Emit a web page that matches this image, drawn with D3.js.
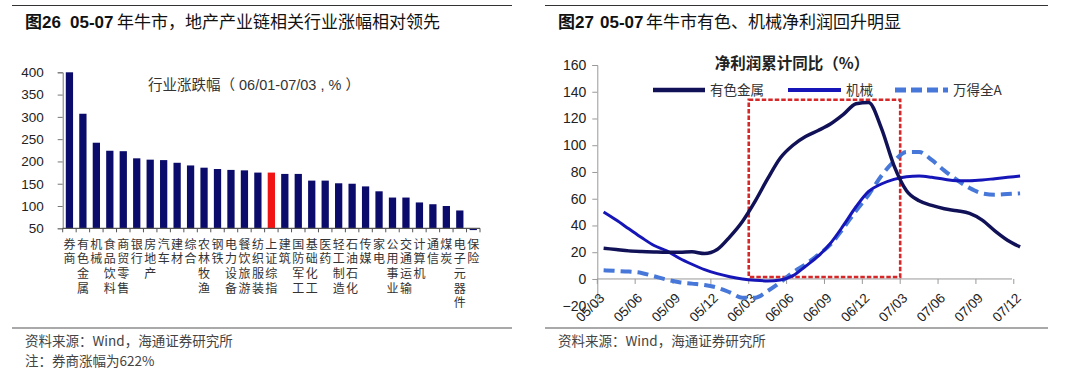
<!DOCTYPE html>
<html>
<head>
<meta charset="utf-8">
<script src="https://cdn.jsdelivr.net/npm/d3@7"></script>
<style>
  body { margin: 0; background: #fff; }
  svg { display: block; font-family: "Liberation Sans", "Noto Sans CJK SC", sans-serif; }
  .cjk { font-family: "Noto Sans CJK SC", sans-serif; }
</style>
</head>
<body>
<div id="chart"></div>
<script>
//~~~~~~~~~~~~~~~~~~~~~~~~~~~~~~~~~~~~
// Data - left chart (industry returns 06/01-07/03)
//~~~~~~~~~~~~~~~~~~~~~~~~~~~~~~~~~~~~
const industries = ["券商", "有色金属", "机械", "食品饮料", "商贸零售", "银行", "房地产", "汽车", "建材", "综合",
    "农林牧渔", "钢铁", "电力设备", "餐饮旅游", "纺织服装", "上证综指", "建筑", "国防军工", "基础化工", "医药",
    "轻工制造", "石油石化", "传媒", "家电", "公用事业", "交通运输", "计算机", "通信", "煤炭", "电子元器件", "保险"];
const industryReturns = [622, 307, 242, 224, 223, 207, 204, 203, 197, 191,
    186, 183, 181, 180, 175, 175, 172, 172, 157, 157,
    151, 150, 144, 133, 119, 119, 108, 104, 100, 90, 46];
const highlighted = "上证综指";
const returnTicks = [50, 100, 150, 200, 250, 300, 350, 400];

//~~~~~~~~~~~~~~~~~~~~~~~~~~~~~~~~~~~~
// Data - right chart (net profit YoY, monthly 05/03-07/12)
//~~~~~~~~~~~~~~~~~~~~~~~~~~~~~~~~~~~~
const months = ["05/03", "05/04", "05/05", "05/06", "05/07", "05/08", "05/09", "05/10", "05/11", "05/12",
    "06/01", "06/02", "06/03", "06/04", "06/05", "06/06", "06/07", "06/08", "06/09", "06/10", "06/11", "06/12",
    "07/01", "07/02", "07/03", "07/04", "07/05", "07/06", "07/07", "07/08", "07/09", "07/10", "07/11", "07/12"];
const metals = [23, 22, 21, 20.5, 20.2, 20, 20, 20.3, 19, 22,
    31.5, 43, 58, 75, 90.5, 100, 106.5, 111, 116, 123, 131, 132,
    113, 85, 66, 58.5, 55, 52.5, 51, 49, 44, 36, 29, 24];
const machinery = [50, 44, 37.5, 31, 25, 21, 15.5, 11, 7, 4,
    1.7, 0, -1, -1.5, -0.8, 2.5, 9.5, 17, 27, 40, 54, 65.5,
    71, 74.5, 76.5, 77, 76, 74.5, 73.5, 73.5, 74, 75, 76, 77];
const windA = [6.5, 6, 5.5, 4.5, 2, -0.5, -2.5, -3.5, -4.5, -6.5,
    -10, -14, -14, -9, -2.5, 5, 11, 18, 26, 38, 51, 63,
    77, 88, 95, 95, 89, 81, 74, 68, 64, 63, 63.5, 64];
const monthTicks = ["05/03", "05/06", "05/09", "05/12", "06/03", "06/06", "06/09", "06/12", "07/03", "07/06", "07/09", "07/12"];
const profitTicks = [-20, 0, 20, 40, 60, 80, 100, 120, 140, 160];
const boxMonths = ["06/03", "07/03"];
const boxRange = [1.5, 134];

//~~~~~~~~~~~~~~~~~~~~~~~~~~~~~~~~~~~~
// Page frame
//~~~~~~~~~~~~~~~~~~~~~~~~~~~~~~~~~~~~
const svg = d3.select("#chart").append("svg")
    .attr("width", 1080)
    .attr("height", 374);

function drawFrame(x0, x1, title) {
    svg.append("line").attr("x1", x0).attr("x2", x1).attr("y1", 5.5).attr("y2", 5.5)
        .attr("stroke", "#333").attr("stroke-width", 1.2);
    svg.append("line").attr("x1", x0).attr("x2", x1).attr("y1", 328).attr("y2", 328)
        .attr("stroke", "#555").attr("stroke-width", 1.2);
    const t = svg.append("text").attr("y", 28).attr("font-size", 17).attr("fill", "#111");
    title.forEach(p => t.append("tspan").attr("x", p.x).attr("font-weight", p.bold ? "bold" : "normal").text(p.text));
}

//~~~~~~~~~~~~~~~~~~~~~~~~~~~~~~~~~~~~
// Left: bar chart
//~~~~~~~~~~~~~~~~~~~~~~~~~~~~~~~~~~~~
function createBarChart() {
    drawFrame(12, 512, [
        {x: 25, text: "图26", bold: true},
        {x: 70, text: "05-07", bold: true},
        {x: 117, text: "年牛市，地产产业链相关行业涨幅相对领先"}
    ]);

    const x = d3.scaleBand().domain(industries).range([62.7, 480]).paddingInner(0.46).paddingOuter(0.23);
    const y = d3.scaleLinear().domain([50, 400]).range([228.3, 72.3]);
    const g = svg.append("g");

    g.selectAll("rect").data(industries).join("rect")
        .attr("x", d => x(d))
        .attr("width", x.bandwidth())
        .attr("y", (d, i) => y(Math.max(50, Math.min(400, industryReturns[i]))))
        .attr("height", (d, i) => Math.abs(y(50) - y(Math.min(400, industryReturns[i]))))
        .attr("fill", d => d === highlighted ? "#f01414" : "#0b0b6b");

    // y axis
    const ya = g.append("g").attr("transform", "translate(62.7,0)")
        .call(d3.axisLeft(y).tickValues(returnTicks).tickSize(5).tickPadding(14));
    ya.select(".domain").attr("stroke", "#777");
    ya.selectAll(".tick line").attr("stroke", "#777");
    ya.selectAll("text").attr("font-size", 13.5).attr("fill", "#222")
        .attr("font-family", "Liberation Sans, sans-serif");

    // x axis: ticks between categories
    const step = x.step();
    g.append("line").attr("x1", 62.7).attr("x2", 480).attr("y1", y(50)).attr("y2", y(50))
        .attr("stroke", "#555").attr("stroke-width", 1.2);
    g.selectAll(".xt").data(d3.range(industries.length + 1)).join("line")
        .attr("x1", i => 62.7 + i * step).attr("x2", i => 62.7 + i * step)
        .attr("y1", y(50)).attr("y2", y(50) + 4)
        .attr("stroke", "#555");

    // vertical category labels, one character per row
    const lab = g.selectAll(".cat").data(industries).join("text")
        .attr("class", "cjk")
        .attr("font-size", 12)
        .attr("fill", "#333")
        .attr("text-anchor", "middle");
    lab.selectAll("tspan").data(d => Array.from(d).map(c => ({c, name: d}))).join("tspan")
        .attr("x", d => x(d.name) + x.bandwidth() / 2)
        .attr("y", (d, i) => 248.5 + i * 14.7)
        .text(d => d.c);

    svg.append("text").attr("x", 148).attr("y", 90).attr("font-size", 14.5).attr("fill", "#333")
        .text("行业涨跌幅（ 06/01-07/03 , % ）");

    svg.append("text").attr("class", "cjk").attr("x", 25).attr("y", 346).attr("font-size", 13.5).attr("fill", "#444")
        .text("资料来源：Wind，海通证券研究所");
    svg.append("text").attr("class", "cjk").attr("x", 25).attr("y", 366).attr("font-size", 13.5).attr("fill", "#444")
        .text("注：券商涨幅为622%");
}

//~~~~~~~~~~~~~~~~~~~~~~~~~~~~~~~~~~~~
// Right: line chart
//~~~~~~~~~~~~~~~~~~~~~~~~~~~~~~~~~~~~
function createLineChart() {
    drawFrame(545, 1048, [
        {x: 558, text: "图27", bold: true},
        {x: 600, text: "05-07", bold: true},
        {x: 646, text: "年牛市有色、机械净利润回升明显"}
    ]);

    const x = d3.scaleLinear().domain([0, months.length]).range([597.3, 1026.4]);
    const y = d3.scaleLinear().domain([-20, 160]).range([305.7, 65]);
    const g = svg.append("g");

    // y axis
    const ya = g.append("g").attr("transform", "translate(597.3,0)")
        .call(d3.axisLeft(y).tickValues(profitTicks).tickSize(5).tickPadding(6));
    ya.select(".domain").attr("stroke", "#999");
    ya.selectAll(".tick line").attr("stroke", "#999");
    ya.selectAll("text").attr("font-size", 14).attr("fill", "#222");

    // x axis on zero line
    g.append("line").attr("x1", 597.3).attr("x2", 1012).attr("y1", y(0)).attr("y2", y(0))
        .attr("stroke", "#999");
    const tickX = m => x(months.indexOf(m));
    g.selectAll(".xt").data(monthTicks).join("line")
        .attr("x1", tickX).attr("x2", tickX)
        .attr("y1", y(0)).attr("y2", y(0) + 5)
        .attr("stroke", "#999");
    g.selectAll(".xl").data(monthTicks).join("text")
        .attr("transform", m => `translate(${tickX(m) + 8},${y(0) + 20}) rotate(-45)`)
        .attr("text-anchor", "end")
        .attr("font-size", 13.5)
        .attr("fill", "#222")
        .text(m => m);

    // highlight box
    g.append("rect")
        .attr("x", tickX(boxMonths[0]))
        .attr("y", y(boxRange[1]))
        .attr("width", tickX(boxMonths[1]) - tickX(boxMonths[0]))
        .attr("height", y(boxRange[0]) - y(boxRange[1]))
        .attr("fill", "none")
        .attr("stroke", "#d62828")
        .attr("stroke-width", 2.6)
        .attr("stroke-dasharray", "4.5,2");

    const line = d3.line()
        .x((d, i) => x(i + 0.5))
        .y(d => y(d))
        .curve(d3.curveMonotoneX);

    g.append("path").datum(windA).attr("d", line).attr("fill", "none")
        .attr("stroke", "#4677d9").attr("stroke-width", 4).attr("stroke-dasharray", "11,6");
    g.append("path").datum(machinery).attr("d", line).attr("fill", "none")
        .attr("stroke", "#1616b8").attr("stroke-width", 3);
    g.append("path").datum(metals).attr("d", line).attr("fill", "none")
        .attr("stroke", "#111158").attr("stroke-width", 3.5);

    // legend
    const legend = [
        {name: "有色金属", color: "#111158", w: 4.5, dash: null, x0: 653, x1: 705},
        {name: "机械", color: "#1616b8", w: 4, dash: null, x0: 788, x1: 841},
        {name: "万得全A", color: "#4677d9", w: 5, dash: "11,5", x0: 895, x1: 948}
    ];
    legend.forEach(l => {
        g.append("line").attr("x1", l.x0).attr("x2", l.x1).attr("y1", 90).attr("y2", 90)
            .attr("stroke", l.color).attr("stroke-width", l.w)
            .attr("stroke-dasharray", l.dash);
        g.append("text").attr("class", "cjk").attr("x", l.x1 + 5).attr("y", 95)
            .attr("font-size", 13.5).attr("fill", "#333").text(l.name);
    });

    svg.append("text").attr("class", "cjk").attr("x", 792).attr("y", 69).attr("text-anchor", "middle")
        .attr("font-size", 15.5).attr("font-weight", "bold").attr("fill", "#222")
        .text("净利润累计同比（%）");

    svg.append("text").attr("class", "cjk").attr("x", 558).attr("y", 346).attr("font-size", 13.5).attr("fill", "#444")
        .text("资料来源：Wind，海通证券研究所");
}

createBarChart();
createLineChart();
</script>
</body>
</html>
